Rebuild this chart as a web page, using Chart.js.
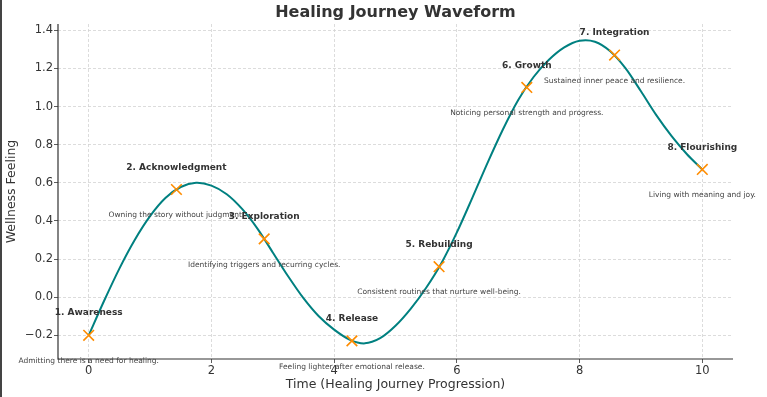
<!DOCTYPE html>
<html>
<head>
<meta charset="utf-8">
<script src="https://cdn.jsdelivr.net/npm/chart.js@4.4.1/dist/chart.umd.min.js"></script>
<style>
  html, body { margin: 0; padding: 0; background: #fff; }
  #wrap { width: 767px; height: 397px; position: relative; }
</style>
</head>
<body>
<div id="wrap"><canvas id="waveChart" width="767" height="397"></canvas></div>
<script>
// Curve (x = time, y = wellness)
const curveX = [0, 0.25, 0.5, 0.75, 1.0, 1.25, 1.5, 1.75, 2.0, 2.25, 2.5, 2.75, 3.0, 3.25, 3.5, 3.75, 4.0, 4.25, 4.5, 4.75,
  5.0, 5.25, 5.5, 5.75, 6.0, 6.25, 6.5, 6.75, 7.0, 7.25, 7.5, 7.75, 8.0, 8.25, 8.5, 8.75, 9.0, 9.25, 9.5, 9.75, 10];
const curveY = [-0.2, -0.02, 0.15, 0.30, 0.425, 0.52, 0.578, 0.6, 0.585, 0.54, 0.463, 0.36, 0.235, 0.11, -0.005, -0.1, -0.17, -0.222, -0.242, -0.215,
  -0.15, -0.06, 0.05, 0.18, 0.34, 0.52, 0.705, 0.88, 1.035, 1.155, 1.245, 1.31, 1.345, 1.34, 1.29, 1.2, 1.08, 0.955, 0.845, 0.75, 0.67];

// The eight stages
const stageX = [0, 1.43, 2.86, 4.29, 5.71, 7.14, 8.57, 10];
const stageY = [-0.2, 0.565, 0.306, -0.229, 0.16, 1.1, 1.27, 0.67];
const stageTitles = ['1. Awareness', '2. Acknowledgment', '3. Exploration', '4. Release', '5. Rebuilding', '6. Growth', '7. Integration', '8. Flourishing'];
const stageNotes = [
  'Admitting there is a need for healing.',
  'Owning the story without judgment.',
  'Identifying triggers and recurring cycles.',
  'Feeling lighter after emotional release.',
  'Consistent routines that nurture well-being.',
  'Noticing personal strength and progress.',
  'Sustained inner peace and resilience.',
  'Living with meaning and joy.'
];

// Axis ticks
const xTicks = [0, 2, 4, 6, 8, 10];
const yTicks = [-0.2, 0.0, 0.2, 0.4, 0.6, 0.8, 1.0, 1.2, 1.4];

const FONT = "'DejaVu Sans', sans-serif";

// Draws title, stage labels and the axis lines
const annotations = {
  id: 'annotations',
  afterDatasetsDraw(chart) {
    const ctx = chart.ctx;
    const xs = chart.scales.x;
    const ys = chart.scales.y;
    const area = chart.chartArea;
    ctx.save();

    // axis lines (left and bottom)
    ctx.strokeStyle = '#333';
    ctx.lineWidth = 1.2;
    ctx.beginPath();
    ctx.moveTo(area.left, area.top);
    ctx.lineTo(area.left, area.bottom);
    ctx.lineTo(area.right, area.bottom);
    ctx.stroke();

    ctx.textAlign = 'center';
    ctx.textBaseline = 'middle';
    for (let i = 0; i < stageX.length; i++) {
      const px = xs.getPixelForValue(stageX[i]);
      ctx.fillStyle = '#333';
      ctx.font = 'bold 9px ' + FONT;
      ctx.fillText(stageTitles[i], px, ys.getPixelForValue(stageY[i] + 0.117));
      ctx.fillStyle = '#444';
      ctx.font = '7.5px ' + FONT;
      ctx.fillText(stageNotes[i], px, ys.getPixelForValue(stageY[i] - 0.135));
    }

    // title
    ctx.fillStyle = '#333';
    ctx.font = 'bold 16px ' + FONT;
    ctx.fillText('Healing Journey Waveform', (area.left + area.right) / 2, 13);

    // left edge frame
    ctx.fillStyle = '#444';
    ctx.fillRect(0, 0, 2, chart.height);
    ctx.restore();
  }
};

const ctx = document.getElementById('waveChart').getContext('2d');
new Chart(ctx, {
  type: 'scatter',
  data: {
    datasets: [{
      label: 'Stages',
      data: stageX.map((x, i) => ({ x: x, y: stageY[i] })),
      pointStyle: 'crossRot',
      pointRadius: 7.5,
      pointBorderWidth: 1.6,
      pointBorderColor: '#ff8c00',
      pointBackgroundColor: '#ff8c00',
      showLine: false
    }, {
      label: 'Waveform',
      data: curveX.map((x, i) => ({ x: x, y: curveY[i] })),
      showLine: true,
      borderColor: '#008080',
      borderWidth: 2,
      pointRadius: 0,
      tension: 0.3
    }]
  },
  options: {
    responsive: false,
    animation: false,
    devicePixelRatio: 1,
    layout: { padding: { left: 0, right: 34, top: 24, bottom: 0 } },
    plugins: {
      legend: { display: false },
      tooltip: { enabled: false }
    },
    scales: {
      x: {
        type: 'linear',
        min: -0.5,
        max: 10.5,
        afterBuildTicks: s => { s.ticks = xTicks.map(v => ({ value: v })); },
        afterFit: s => { s.height = 38; },
        ticks: {
          color: '#333',
          font: { family: FONT, size: 11.5 },
          padding: 1,
          maxRotation: 0,
          callback: v => String(v)
        },
        grid: { color: '#d3d3d3', lineWidth: 0.8, tickColor: '#333', tickLength: 4, tickBorderDash: [] },
        border: { display: false, dash: [3, 2] },
        title: {
          display: true,
          text: 'Time (Healing Journey Progression)',
          color: '#333',
          font: { family: FONT, size: 12.5 },
          padding: { top: 0, bottom: 5 }
        }
      },
      y: {
        type: 'linear',
        min: -0.324,
        max: 1.433,
        afterBuildTicks: s => { s.ticks = yTicks.map(v => ({ value: v })); },
        afterFit: s => { s.width = 58; },
        ticks: {
          color: '#333',
          font: { family: FONT, size: 11.5 },
          padding: 1,
          callback: v => (v < 0 ? '\u2212' : '') + Math.abs(v).toFixed(1)
        },
        grid: { color: '#d3d3d3', lineWidth: 0.8, tickColor: '#333', tickLength: 4, tickBorderDash: [] },
        border: { display: false, dash: [3, 2] },
        title: {
          display: true,
          text: 'Wellness Feeling',
          color: '#333',
          font: { family: FONT, size: 12.5 },
          padding: { top: 4, bottom: 0 }
        }
      }
    }
  },
  plugins: [annotations]
});
</script>
</body>
</html>
